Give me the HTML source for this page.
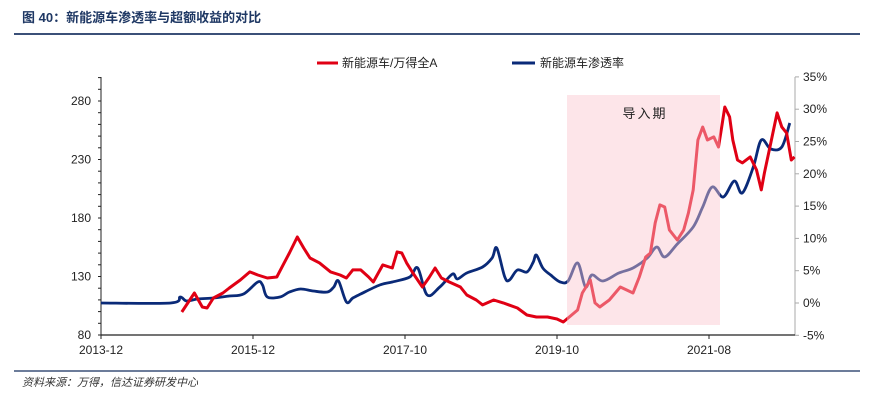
<!DOCTYPE html>
<html><head><meta charset="utf-8"><style>
body{margin:0;background:#fff;}
svg{display:block;font-family:"Liberation Sans","Noto Sans CJK SC",sans-serif;}
</style></head><body>
<svg id="c" width="875" height="405" viewBox="0 0 875 405">
<text x="22" y="22" font-size="13" font-weight="bold" fill="#1f3864">图 40：新能源车渗透率与超额收益的对比</text>
<line x1="14" y1="34" x2="860" y2="34" stroke="#3b5078" stroke-width="2"/>
<g>
<g><line x1="317" y1="63" x2="338" y2="63" stroke="#e00014" stroke-width="3"/><text x="342" y="67" font-size="12" fill="#222">新能源车/万得全A</text></g>
<g><line x1="512" y1="63" x2="535" y2="63" stroke="#0a2a78" stroke-width="3"/><text x="540" y="67" font-size="12" fill="#222">新能源车渗透率</text></g>
</g>
<g id="plot"></g>
<line x1="14" y1="371" x2="860" y2="371" stroke="#3b5078" stroke-width="1.5"/>
<text x="22" y="386" font-size="11" font-style="italic" fill="#333">资料来源：万得，信达证券研发中心</text>
</svg>
<script>
const xTickLabels=["2013-12","2015-12","2017-10","2019-10","2021-08"];
const xTickWeeks=[0,96,192,288,384];
const leftTicks=[80,130,180,230,280];
const rightTicks=[-5,0,5,10,15,20,25,30,35];
const redWeeks=[51,59,64,67,71,77,81,88,94,99,105,111,115,119,124,128,132,138,145,151,155,159,164,169,172,178,184,187,190,193,197,203,207,211,215,220,227,231,237,241,248,254,263,269,275,282,288,292,295,301,304,309,312,315,321,328,332,336,340,344,347,350,353,356,359,364,368,371,374,377,380,383,387,390,392,394,397,399,402,405,410,414,417,419,423,427,430,433,436,438];
const redValues=[99.7,115.9,103.9,103.1,111.6,115.9,120.2,127,133.9,131.3,128.7,129.6,139.9,150.1,163.8,154.4,145.8,141.6,133.9,131.3,128.7,135.6,135.6,129.6,125.3,139.9,137.3,151,150.1,141.6,133,121,128.7,137.3,128.7,125.3,121,114.2,109.9,105.7,109.9,107.4,103.1,97.1,95.4,95.4,93.7,91.1,94.5,101.4,115.9,127,107.4,103.9,109.9,121,118.5,115.9,129.6,146.7,150.1,175.8,191.2,189.4,169.8,161.2,169.8,184.3,204,246.7,257.8,246.7,249.3,240.7,257.8,274.9,266.4,246.7,229.6,227.1,232.2,221.1,204,218.5,244.2,269.8,257.8,252.7,229.6,232.2];
const blueWeeks=[0,44,50,54,61,71,81,90,99,102,105,113,119,126,134,143,147,150,155,159,164,176,184,195,200,206,214,222,225,231,241,247,250,255,258,263,269,273,275,279,284,290,295,301,306,310,317,327,336,345,351,356,364,374,380,386,393,400,405,412,417,423,430,435];
const blueValues=[0,0,0.93,0.31,0.62,0.77,1.08,1.39,3.25,2.79,0.93,0.93,1.7,2.17,1.86,1.7,2.48,3.41,0.15,0.77,1.39,2.79,3.25,4.02,5.42,1.24,2.48,4.49,3.72,4.64,5.57,6.97,8.51,4.02,3.56,5.11,4.8,6.35,7.43,5.42,4.33,3.25,3.41,6.19,2.48,4.33,3.41,4.64,5.42,6.97,8.67,7.12,9.13,11.76,14.86,17.96,16.41,18.89,17.03,21.05,25.23,23.84,24.15,27.86];
const X0=101,X1=795,Y0=335;
function xs(w){return X0+w*(152/96);}
function yl(v){return Y0-(v-80)*(58.5/50);}
function yr(p){return 303-p*6.46;}
const NS="http://www.w3.org/2000/svg";
const plot=document.getElementById('plot');
function mk(t,a,p){const e=document.createElementNS(NS,t);for(const k in a)e.setAttribute(k,a[k]);(p||plot).appendChild(e);return e;}
function smooth(pts){let d="M"+pts[0][0]+","+pts[0][1];for(let i=0;i<pts.length-1;i++){const p0=pts[Math.max(0,i-1)],p1=pts[i],p2=pts[i+1],p3=pts[Math.min(pts.length-1,i+2)];const c1=[p1[0]+(p2[0]-p0[0])/6,p1[1]+(p2[1]-p0[1])/6],c2=[p2[0]-(p3[0]-p1[0])/6,p2[1]-(p3[1]-p1[1])/6];d+=" C"+c1[0].toFixed(1)+","+c1[1].toFixed(1)+" "+c2[0].toFixed(1)+","+c2[1].toFixed(1)+" "+p2[0].toFixed(1)+","+p2[1].toFixed(1);}return d;}
let e=mk('line',{x1:X0,y1:77,x2:X0,y2:Y0,stroke:'#222','stroke-width':1});

for(let v=80;v<=300;v+=10){mk('line',{x1:X0-3,y1:yl(v),x2:X0,y2:yl(v),stroke:'#222'});}
leftTicks.forEach(v=>{const t=mk('text',{x:91,y:yl(v)+4,'font-size':12,'text-anchor':'end',fill:'#222'});t.textContent=v;
});
e=mk('line',{x1:X1,y1:77,x2:X1,y2:Y0,stroke:'#aaa','stroke-width':1});

rightTicks.forEach(p=>{mk('line',{x1:X1,y1:yr(p),x2:X1+4,y2:yr(p),stroke:'#aaa'});const t=mk('text',{x:803,y:yr(p)+4,'font-size':12,fill:'#222'});t.textContent=p+"%";
});
e=mk('line',{x1:X0,y1:Y0,x2:X1,y2:Y0,stroke:'#222','stroke-width':1.2});

xTickWeeks.forEach((w,i)=>{mk('line',{x1:xs(w),y1:Y0,x2:xs(w),y2:Y0+4,stroke:'#222'});const t=mk('text',{x:xs(w),y:354,'font-size':12,'text-anchor':'middle',fill:'#222'});t.textContent=xTickLabels[i];
});
e=mk('path',{d:smooth(blueWeeks.map((w,i)=>[xs(w),yr(blueValues[i])])),fill:'none',stroke:'#0a2a78','stroke-width':2.8,'stroke-linejoin':'round'});

e=mk('path',{d:"M"+redWeeks.map((w,i)=>xs(w).toFixed(1)+","+yl(redValues[i]).toFixed(1)).join(" L"),fill:'none',stroke:'#e00014','stroke-width':3,'stroke-linejoin':'round'});

e=mk('rect',{x:567,y:95,width:153,height:230,fill:'#fbc6ce','fill-opacity':0.45});

e=mk('text',{x:645,y:118,'font-size':13,'text-anchor':'middle',fill:'#222','letter-spacing':'2'});e.textContent="导入期";

</script>
</body></html>
